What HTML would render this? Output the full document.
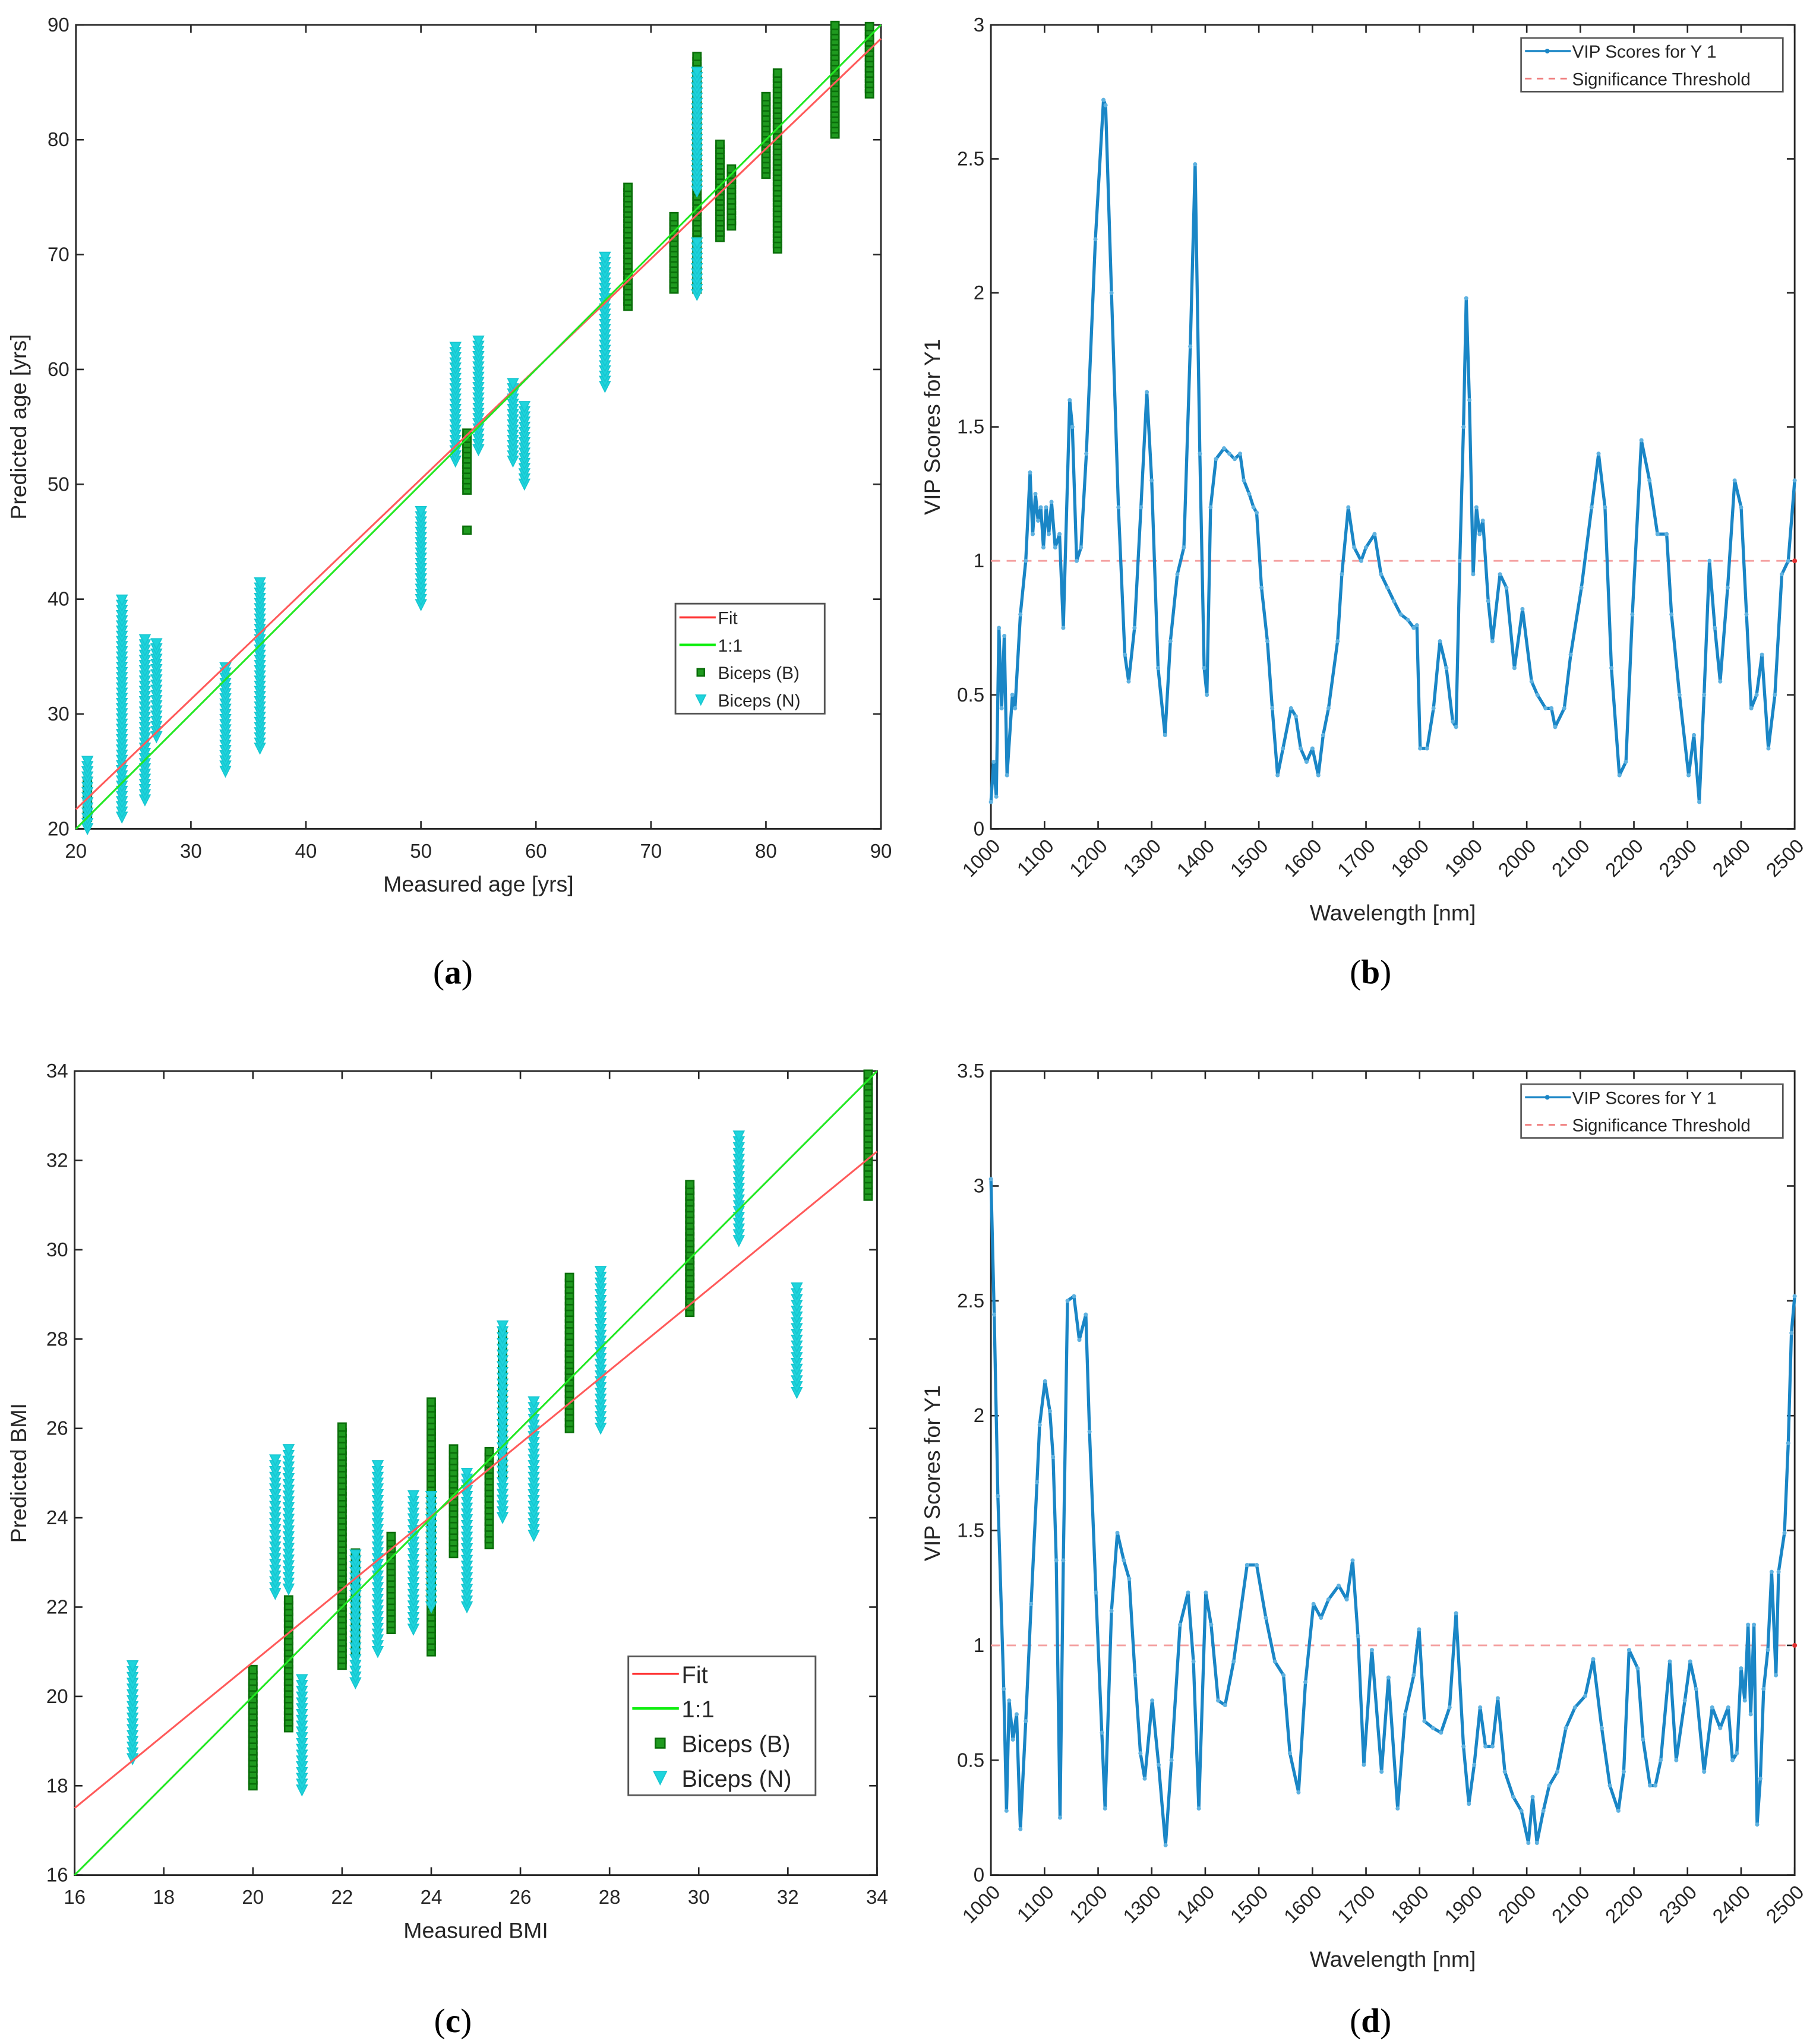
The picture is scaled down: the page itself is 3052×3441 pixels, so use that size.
<!DOCTYPE html>
<html><head><meta charset="utf-8">
<style>
html,body{margin:0;padding:0;background:#fff;}
svg{display:block;}
text{font-family:"Liberation Sans",sans-serif;fill:#262626;}
.cap{font-family:"Liberation Serif",serif;fill:#000;}
</style></head>
<body>
<svg id="fig" xmlns="http://www.w3.org/2000/svg" width="3052" height="3441" viewBox="0 0 1385 1561" preserveAspectRatio="none">
<rect width="1385" height="1561" fill="#fff"/>
<g id="gA"></g>
<g id="gB"></g>
<g id="gC"></g>
<g id="gD"></g>
</svg>
<script>
// ---- Panel (a) data ----
const ageBx  = [21, 54, 54, 68, 72, 74, 76, 77, 80, 81, 86, 89];
const ageBlo = [21, 46, 49.5, 65.5, 67, 67, 71.5, 72.5, 77, 70.5, 80.5, 84];
const ageBhi = [24.5, 46, 54.5, 76, 73.5, 87.5, 80, 77.5, 84, 86, 90, 90];
const ageNx  = [21, 24, 26, 27, 33, 36, 50, 53, 55, 58, 59, 66, 74, 74];
const ageNlo = [20, 21, 22.5, 28, 25, 27, 39.5, 52, 53, 52, 50, 58.5, 66.5, 75.5];
const ageNhi = [26, 40, 36.5, 36.5, 34, 41.5, 48, 62, 62.5, 59, 57, 70, 71, 86];
const ageFitX = [20, 90];
const ageFitY = [21.7, 88.8];
const ageTicks = [20, 30, 40, 50, 60, 70, 80, 90];

// ---- Panel (c) data ----
const bmiBx  = [20, 20.8, 22, 22.3, 23.1, 24, 24.5, 25.3, 25.6, 27.1, 29.8, 33.8];
const bmiBlo = [18, 19.3, 20.7, 21, 21.5, 21, 23.2, 23.4, 25, 26, 28.6, 31.2];
const bmiBhi = [20.7, 22.2, 26.1, 23.3, 23.7, 26.6, 25.6, 25.5, 28.2, 29.4, 31.5, 34];
const bmiNx  = [17.3, 20.5, 20.8, 21.1, 22.3, 22.8, 23.6, 24, 24.8, 25.6, 26.3, 27.8, 30.9, 32.2];
const bmiNlo = [18.6, 22.3, 22.4, 17.9, 20.3, 21, 21.5, 22, 22, 24, 23.6, 26, 30.2, 26.8];
const bmiNhi = [20.8, 25.3, 25.6, 20.4, 23.2, 25.2, 24.5, 24.5, 25, 28.4, 26.6, 29.6, 32.6, 29.2];
const bmiFitX = [16, 34];
const bmiFitY = [17.5, 32.2];
const bmiTicks = [16, 18, 20, 22, 24, 26, 28, 30, 32, 34];

// ---- Panel (b) VIP data ----
const vipBwl = [1000,1005,1010,1015,1020,1025,1030,1040,1045,1055,1065,1073,1078,1083,1088,1093,1098,1103,1108,1113,1120,1128,1135,1147,1152,1160,1168,1178,1195,1210,1214,1225,1238,1250,1257,1268,1280,1291,1300,1312,1325,1335,1348,1360,1372,1381,1390,1398,1403,1410,1420,1435,1445,1455,1465,1472,1482,1490,1496,1505,1516,1525,1535,1545,1560,1569,1578,1589,1600,1611,1620,1630,1647,1655,1667,1678,1691,1700,1716,1728,1740,1752,1765,1778,1789,1795,1801,1814,1826,1838,1850,1862,1868,1875,1882,1887,1893,1900,1906,1912,1918,1928,1936,1950,1962,1977,1992,2009,2020,2035,2046,2053,2070,2082,2102,2121,2134,2146,2158,2173,2185,2197,2214,2229,2244,2261,2270,2285,2302,2312,2322,2331,2341,2351,2361,2375,2388,2400,2410,2419,2429,2439,2451,2463,2476,2488,2500];
const vipBval = [0.1,0.25,0.12,0.75,0.45,0.72,0.2,0.5,0.45,0.8,1.0,1.33,1.1,1.25,1.15,1.2,1.05,1.2,1.1,1.22,1.05,1.1,0.75,1.6,1.5,1.0,1.05,1.4,2.2,2.72,2.7,2.0,1.2,0.65,0.55,0.75,1.2,1.63,1.3,0.6,0.35,0.7,0.95,1.05,1.8,2.48,1.4,0.6,0.5,1.2,1.38,1.42,1.4,1.38,1.4,1.3,1.25,1.2,1.18,0.9,0.7,0.45,0.2,0.3,0.45,0.42,0.3,0.25,0.3,0.2,0.35,0.45,0.7,0.95,1.2,1.05,1.0,1.05,1.1,0.95,0.9,0.85,0.8,0.78,0.75,0.76,0.3,0.3,0.45,0.7,0.6,0.4,0.38,1.0,1.5,1.98,1.6,0.95,1.2,1.1,1.15,0.85,0.7,0.95,0.9,0.6,0.82,0.55,0.5,0.45,0.45,0.38,0.45,0.65,0.9,1.2,1.4,1.2,0.6,0.2,0.25,0.8,1.45,1.3,1.1,1.1,0.8,0.5,0.2,0.35,0.1,0.5,1.0,0.75,0.55,0.9,1.3,1.2,0.8,0.45,0.5,0.65,0.3,0.5,0.95,1.0,1.3];

// ---- Panel (d) VIP data ----
const vipDwl = [1000,1006,1013,1024,1029,1034,1041,1048,1055,1065,1075,1086,1091,1101,1110,1116,1122,1129,1135,1143,1155,1165,1177,1184,1196,1207,1213,1225,1236,1248,1258,1269,1279,1287,1301,1313,1326,1337,1353,1368,1378,1388,1401,1411,1424,1437,1453,1478,1496,1513,1530,1546,1558,1574,1587,1602,1616,1630,1649,1664,1675,1685,1696,1711,1729,1742,1759,1773,1789,1799,1809,1825,1840,1856,1868,1882,1892,1902,1913,1923,1936,1946,1959,1975,1990,2003,2011,2019,2031,2042,2057,2073,2090,2109,2124,2140,2155,2171,2181,2191,2207,2217,2230,2240,2250,2267,2279,2295,2305,2316,2331,2346,2361,2376,2384,2392,2400,2407,2413,2418,2424,2430,2436,2442,2450,2457,2465,2470,2481,2488,2494,2500];
const vipDval = [3.03,2.44,1.65,0.81,0.28,0.76,0.59,0.7,0.2,0.67,1.18,1.71,1.96,2.15,2.02,1.82,1.37,0.25,1.37,2.5,2.52,2.33,2.44,1.93,1.23,0.62,0.29,1.15,1.49,1.37,1.29,0.87,0.53,0.42,0.76,0.48,0.13,0.5,1.09,1.23,0.93,0.29,1.23,1.09,0.76,0.74,0.93,1.35,1.35,1.12,0.93,0.87,0.53,0.36,0.84,1.18,1.12,1.2,1.26,1.2,1.37,1.04,0.48,0.98,0.45,0.86,0.29,0.7,0.87,1.07,0.67,0.64,0.62,0.73,1.14,0.56,0.31,0.48,0.73,0.56,0.56,0.77,0.45,0.34,0.28,0.14,0.34,0.14,0.28,0.39,0.45,0.64,0.73,0.78,0.94,0.64,0.39,0.28,0.45,0.98,0.9,0.59,0.39,0.39,0.5,0.93,0.5,0.76,0.93,0.81,0.45,0.73,0.64,0.73,0.5,0.53,0.9,0.76,1.09,0.7,1.09,0.22,0.42,0.81,0.98,1.32,0.87,1.32,1.49,1.88,2.36,2.52];
const wlTicks = [1000,1100,1200,1300,1400,1500,1600,1700,1800,1900,2000,2100,2200,2300,2400,2500];

const NS = "http://www.w3.org/2000/svg";
function mk(parent, tag, attrs, txt){
  const e = document.createElementNS(NS, tag);
  for (const k in attrs) e.setAttribute(k, attrs[k]);
  if (txt !== undefined) e.textContent = txt;
  parent.appendChild(e);
  return e;
}
function scale(d0,d1,r0,r1){ return v => r0 + (v-d0)/(d1-d0)*(r1-r0); }

function axesBox(g, L, T, R, B, xs, ys, xTicks, yTicks, xLab, yLab, rotX, xTitle, yTitle, xTitleY, yTitleX){
  const box = mk(g,'rect',{x:L,y:T,width:R-L,height:B-T,fill:'none',stroke:'#262626','stroke-width':1.3});
  
  
  xTicks.forEach((t,i)=>{
    const x = xs(t);
    mk(g,'line',{x1:x,y1:B,x2:x,y2:B-6,stroke:'#262626','stroke-width':1.2});
    mk(g,'line',{x1:x,y1:T,x2:x,y2:T+6,stroke:'#262626','stroke-width':1.2});
    let tx;
    if (rotX){
      tx = mk(g,'text',{x:x+8,y:B+14,'font-size':15,'text-anchor':'end',transform:`rotate(-45 ${x+8} ${B+14})`}, xLab[i]);
    } else {
      tx = mk(g,'text',{x:x,y:B+22,'font-size':15,'text-anchor':'middle'}, xLab[i]);
    }
    
    
  });
  yTicks.forEach((t,i)=>{
    const y = ys(t);
    mk(g,'line',{x1:L,y1:y,x2:L+6,y2:y,stroke:'#262626','stroke-width':1.2});
    mk(g,'line',{x1:R,y1:y,x2:R-6,y2:y,stroke:'#262626','stroke-width':1.2});
    const tx = mk(g,'text',{x:L-5,y:y+5,'font-size':15,'text-anchor':'end'}, yLab[i]);
    
    
  });
  const xt = mk(g,'text',{x:(L+R)/2,y:xTitleY,'font-size':17,'text-anchor':'middle'}, xTitle);
  
  
  const cy = (T+B)/2;
  const yt = mk(g,'text',{x:yTitleX,y:cy,'font-size':17,'text-anchor':'middle',transform:`rotate(-90 ${yTitleX} ${cy})`}, yTitle);
  
  
}

function sq(g,x,y,s){
  const r = mk(g,'rect',{x:x-s/2,y:y-s/2,width:s,height:s,fill:'#1f9a1f',stroke:'#0a6e0a','stroke-width':1.2});
  
  
}
function tri(g,x,y,s){
  const p = mk(g,'path',{d:`M${x-s/2},${y-s/2}L${x+s/2},${y-s/2}L${x},${y+s/2}Z`,fill:'#1ed4dc',stroke:'#17c6d0','stroke-width':0.8});
  
  
}

function scatterPanel(g, L,T,R,B, d0,d1, ticks, Bx,Blo,Bhi, Nx,Nlo,Nhi, fitX,fitY, step, ms, xTitle, yTitle, leg, legFont, capX, capY, cap){
  const xs = scale(d0,d1,L,R), ys = scale(d0,d1,B,T);
  axesBox(g,L,T,R,B,xs,ys,ticks,ticks,ticks.map(String),ticks.map(String),false,xTitle,yTitle,B+48,20);
  const pts = mk(g,'g',{});
  
  
  Bx.forEach((x,i)=>{ for(let v=Blo[i]; v<=Bhi[i]+1e-9; v+=step) sq(pts,xs(x),ys(v),ms); });
  Nx.forEach((x,i)=>{ for(let v=Nlo[i]; v<=Nhi[i]+1e-9; v+=step) tri(pts,xs(x),ys(v),ms+2); });
  const fit = mk(g,'line',{x1:xs(fitX[0]),y1:ys(fitY[0]),x2:xs(fitX[1]),y2:ys(fitY[1]),stroke:'#ff5a5a','stroke-width':1.4});
  
  
  const one = mk(g,'line',{x1:xs(d0),y1:ys(d0),x2:xs(d1),y2:ys(d1),stroke:'#22e822','stroke-width':1.4});
  
  
  const lg = mk(g,'g',{});
  
  
  mk(lg,'rect',{x:leg[0],y:leg[1],width:leg[2],height:leg[3],fill:'#fff',stroke:'#555','stroke-width':1.3});
  const rh = leg[3]/4, lx = leg[0];
  const labels = ['Fit','1:1','Biceps (B)','Biceps (N)'];
  labels.forEach((lab,i)=>{
    const cy = leg[1] + rh*(i+0.5);
    if (i===0) mk(lg,'line',{x1:lx+3,y1:cy,x2:lx+leg[2]*0.27,y2:cy,stroke:'#ff3030','stroke-width':1.6});
    if (i===1) mk(lg,'line',{x1:lx+3,y1:cy,x2:lx+leg[2]*0.27,y2:cy,stroke:'#10ee10','stroke-width':2});
    if (i===2) sq(lg,lx+leg[2]*0.17,cy,legFont*0.4);
    if (i===3) tri(lg,lx+leg[2]*0.17,cy,legFont*0.55);
    const t = mk(lg,'text',{x:lx+leg[2]*0.285,y:cy+legFont*0.38,'font-size':legFont}, lab);
    
    
  });
  const c = mk(g,'text',{x:capX,y:capY,'font-size':26,'text-anchor':'middle',class:'cap'});
  
  
  mk(c,'tspan',{},'(');
  mk(c,'tspan',{'font-weight':'bold'},cap);
  mk(c,'tspan',{},')');
}

function vipPanel(g, L,T,R,B, yMax, yTicks, wl, val, cap, capY){
  const xs = scale(1000,2500,L,R), ys = scale(0,yMax,B,T);
  axesBox(g,L,T,R,B,xs,ys,wlTicks,yTicks,wlTicks.map(String),yTicks.map(String),true,'Wavelength [nm]','VIP Scores for Y1',B+70,718);
  const th = mk(g,'line',{x1:L,y1:ys(1),x2:R,y2:ys(1),stroke:'#f4a0a0','stroke-width':1.3,'stroke-dasharray':'7 5'});
  
  
  mk(g,'circle',{cx:R,cy:ys(1),r:1.8,fill:'#e03030'});
  const d = wl.map((w,i)=>(i?'L':'M')+xs(w).toFixed(1)+','+ys(val[i]).toFixed(1)).join('');
  const p = mk(g,'path',{d:d,fill:'none',stroke:'#1a86c6','stroke-width':2.4,'stroke-linejoin':'round'});
  
  
  wl.forEach((w,i)=>{
    const c = mk(g,'circle',{cx:xs(w),cy:ys(val[i]),r:1.6,fill:'#5fb2e0'});
    
    
  });
  const lg = mk(g,'g',{});
  
  
  const lx=1162, ly=T+10;
  mk(lg,'rect',{x:lx,y:ly,width:200,height:41,fill:'#fff',stroke:'#555','stroke-width':1.2});
  mk(lg,'line',{x1:lx+3,y1:ly+10,x2:lx+38,y2:ly+10,stroke:'#1a86c6','stroke-width':1.6});
  mk(lg,'circle',{cx:lx+20,cy:ly+10,r:1.8,fill:'#1a86c6'});
  const t1 = mk(lg,'text',{x:lx+39,y:ly+15,'font-size':13.5},'VIP Scores for Y 1');
  
  
  mk(lg,'line',{x1:lx+3,y1:ly+31,x2:lx+38,y2:ly+31,stroke:'#f08080','stroke-width':1.3,'stroke-dasharray':'5 4'});
  const t2 = mk(lg,'text',{x:lx+39,y:ly+36,'font-size':13.5},'Significance Threshold');
  
  
  const c = mk(g,'text',{x:1047,y:capY,'font-size':26,'text-anchor':'middle',class:'cap'});
  
  
  mk(c,'tspan',{},'(');
  mk(c,'tspan',{'font-weight':'bold'},cap);
  mk(c,'tspan',{},')');
}

scatterPanel(document.getElementById('gA'),58,19,673,633,20,90,ageTicks,ageBx,ageBlo,ageBhi,ageNx,ageNlo,ageNhi,ageFitX,ageFitY,0.45,6,'Measured age [yrs]','Predicted age [yrs]',[516,461,114,84],13.5,346,751,'a');
vipPanel(document.getElementById('gB'),757,19,1371,633,3,[0,0.5,1,1.5,2,2.5,3],vipBwl,vipBval,'b',751);
scatterPanel(document.getElementById('gC'),57,818,670,1432,16,34,bmiTicks,bmiBx,bmiBlo,bmiBhi,bmiNx,bmiNlo,bmiNhi,bmiFitX,bmiFitY,0.13,6,'Measured BMI','Predicted BMI',[480,1265,143,106],18,346,1552,'c');
vipPanel(document.getElementById('gD'),757,818,1371,1432,3.5,[0,0.5,1,1.5,2,2.5,3,3.5],vipDwl,vipDval,'d',1552);
</script>
</body></html>
